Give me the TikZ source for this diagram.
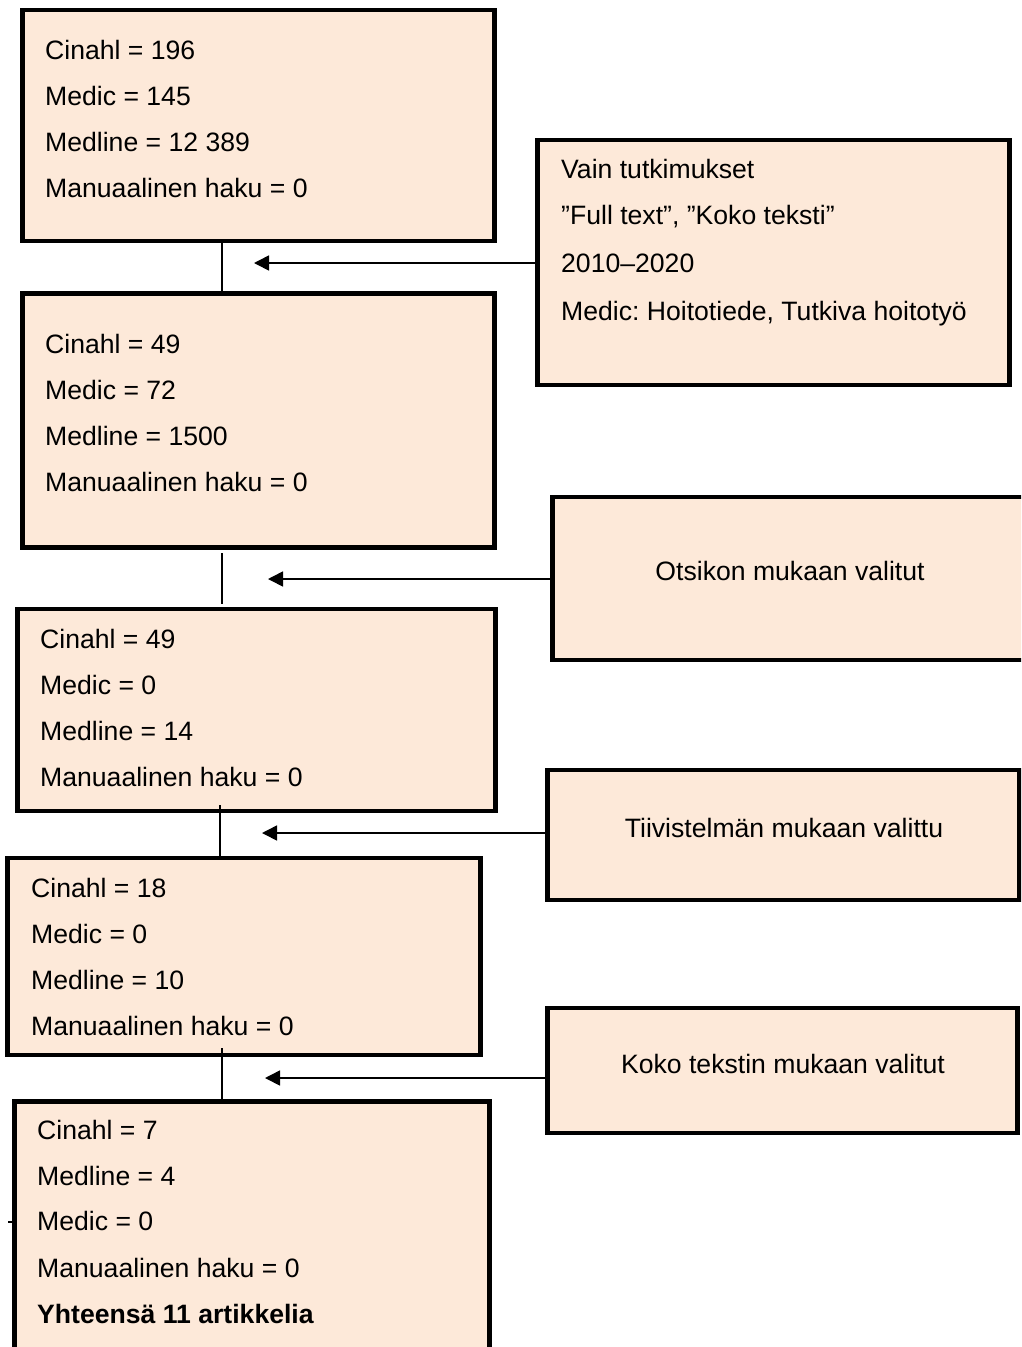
\documentclass[tikz,border=0pt]{standalone}
\usepackage{fontspec}
\setmainfont{Liberation Sans}
\usetikzlibrary{arrows.meta}
\frenchspacing
\definecolor{boxfill}{RGB}{253,233,217}
\tikzset{
  box/.style={draw=black, fill=boxfill, line width=4.5pt, inner sep=0pt, outer sep=0pt, anchor=north west},
  lbl/.style={font=\fontsize{26.6}{32}\selectfont, inner sep=0pt, anchor=base west},
  clbl/.style={font=\fontsize{26.6}{32}\selectfont, inner sep=0pt, anchor=base},
  conn/.style={line width=1.6pt},
  arr/.style={line width=1.6pt, -{Triangle[length=15pt,width=15pt]}}
}
\begin{document}
\begin{tikzpicture}[x=1pt,y=-1pt]
\clip (0,0) rectangle (1021,1347);
\fill[white] (0,0) rectangle (1021,1347);
% left boxes
\node[box, minimum width=472pt, minimum height=231pt] (b1) at (22.5,10) {};
\node[box, minimum width=472pt, minimum height=254pt] (b2) at (22.5,293.5) {};
\node[box, minimum width=478pt, minimum height=202pt] (b3) at (17.5,609) {};
\node[box, minimum width=473pt, minimum height=197pt] (b4) at (7.5,858) {};
\node[box, minimum width=475pt, minimum height=280pt] (b5) at (14.5,1101.5) {};
% right boxes
\node[box, minimum width=472pt, minimum height=245pt] (r1) at (537.5,140) {};
\node[box, minimum width=500pt, minimum height=163pt] (r2) at (552.5,497) {};
\node[box, minimum width=472pt, minimum height=130pt] (r3) at (547.5,770) {};
\node[box, minimum width=470pt, minimum height=125pt] (r4) at (547.5,1008) {};
% texts box 1
\node[lbl] (t11) at (45,59.5) {Cinahl = 196};
\node[lbl] (t12) at (45,105.5) {Medic = 145};
\node[lbl] (t13) at (45,151.5) {Medline = 12 389};
\node[lbl] (t14) at (45,197.5) {Manuaalinen haku = 0};
% box 2
\node[lbl] (t21) at (45,353.5) {Cinahl = 49};
\node[lbl] (t22) at (45,399.5) {Medic = 72};
\node[lbl] (t23) at (45,445.5) {Medline = 1500};
\node[lbl] (t24) at (45,491.5) {Manuaalinen haku = 0};
% box 3
\node[lbl] (t31) at (40,648.5) {Cinahl = 49};
\node[lbl] (t32) at (40,694.5) {Medic = 0};
\node[lbl] (t33) at (40,740.5) {Medline = 14};
\node[lbl] (t34) at (40,786.5) {Manuaalinen haku = 0};
% box 4
\node[lbl] (t41) at (31,897.5) {Cinahl = 18};
\node[lbl] (t42) at (31,943.5) {Medic = 0};
\node[lbl] (t43) at (31,989.5) {Medline = 10};
\node[lbl] (t44) at (31,1035.5) {Manuaalinen haku = 0};
% box 5
\node[lbl] (t51) at (37,1139.5) {Cinahl = 7};
\node[lbl] (t52) at (37,1185.5) {Medline = 4};
\node[lbl] (t53) at (37,1230.5) {Medic = 0};
\node[lbl] (t54) at (37,1277.5) {Manuaalinen haku = 0};
\node[lbl, font=\fontsize{26.6}{32}\selectfont\bfseries] (t55) at (37,1323.5) {Yhteensä 11 artikkelia};
% right texts
\node[lbl] (s11) at (561,178.5) {Vain tutkimukset};
\node[lbl] (s12) at (561,224.5) {”Full text”, ”Koko teksti”};
\node[lbl] (s13) at (561,272.5) {2010–2020};
\node[lbl] (s14) at (561,320.5) {Medic: Hoitotiede, Tutkiva hoitotyö};
\node[clbl] (s2) at (790,580.5) {Otsikon mukaan valitut};
\node[clbl] (s3) at (784,837.5) {Tiivistelmän mukaan valittu};
\node[clbl] (s4) at (783,1073.5) {Koko tekstin mukaan valitut};
% vertical connectors
\coordinate (c1a) at (222,241); \coordinate (c1b) at (222,293);
\coordinate (c2a) at (222,553); \coordinate (c2b) at (222,604);
\coordinate (c3a) at (220,805); \coordinate (c3b) at (220,858);
\coordinate (c4a) at (222,1048); \coordinate (c4b) at (222,1101);
\draw[conn] (c1a) -- (c1b);
\draw[conn] (c2a) -- (c2b);
\draw[conn] (c3a) -- (c3b);
\draw[conn] (c4a) -- (c4b);
% arrows
\coordinate (a1) at (254,263);
\coordinate (a2) at (268,579);
\coordinate (a3) at (262,833);
\coordinate (a4) at (265,1078);
\draw[arr] (r1.west |- a1) -- (a1);
\draw[arr] (r2.west |- a2) -- (a2);
\draw[arr] (r3.west |- a3) -- (a3);
\draw[arr] (r4.west |- a4) -- (a4);
% small tick on left of last box
\coordinate (k1) at (8,1222);
\draw[conn] (k1) -- (b5.west |- k1);
\end{tikzpicture}
\end{document}
